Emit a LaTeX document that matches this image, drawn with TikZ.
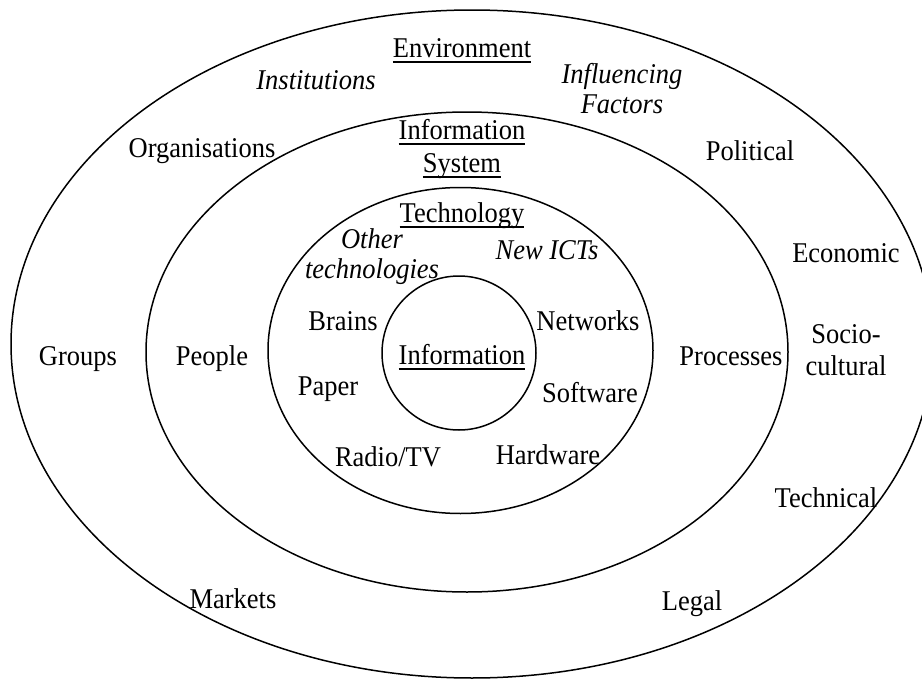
\documentclass[tikz,border=0pt]{standalone}
\usepackage{fontspec}
\usepackage{graphicx}
\setmainfont{Liberation Serif}
\newcommand{\ulx}[1]{\setbox0\hbox{#1}\rlap{\rule[-5.5pt]{\wd0}{1.6pt}}\box0}
\newcommand{\stx}[1]{\scalebox{1}[1.08]{#1}}
\tikzset{
  lbl/.style={anchor=base, inner sep=0pt, font=\fontsize{26.5}{32}\selectfont},
  ilbl/.style={lbl, font=\fontsize{26.5}{32}\selectfont\itshape},
  ring/.style={draw=black, line width=1.5pt}
}
\begin{document}
\begin{tikzpicture}[x=1pt, y=-1pt]
\useasboundingbox (0,0) rectangle (922,680);
\clip (0,0) rectangle (922,680);
\fill[white] (0,0) rectangle (922,680);
% rings
\coordinate (c1) at (472,344);
\coordinate (c2) at (467,352);
\coordinate (c3) at (460.5,350.5);
\coordinate (c4) at (459,353);
\draw[ring] (c1) ellipse [x radius=461pt, y radius=334pt];
\draw[ring] (c2) ellipse [x radius=321pt, y radius=240pt];
\draw[ring] (c3) ellipse [x radius=192.5pt, y radius=163pt];
\draw[ring] (c4) circle [radius=77pt];
% environment
\node[lbl] (env) at (462,57) {\ulx{\stx{Environment}}};
\node[ilbl] (inst) at (316,89) {\stx{Institutions}};
\node[ilbl] (infl1) at (622,83) {\stx{Influencing}};
\node[ilbl] (infl2) at (622,113) {\stx{Factors}};
\node[lbl] (org) at (202,157) {\stx{Organisations}};
\node[lbl] (pol) at (750,160) {\stx{Political}};
\node[lbl] (eco) at (846,262) {\stx{Economic}};
\node[lbl] (soc1) at (846,343) {\stx{Socio-}};
\node[lbl] (soc2) at (846,375) {\stx{cultural}};
\node[lbl] (grp) at (78,365) {\stx{Groups}};
\node[lbl] (tec) at (826,507) {\stx{Technical}};
\node[lbl] (leg) at (692,610) {\stx{Legal}};
\node[lbl] (mkt) at (233,608) {\stx{Markets}};
% information system
\node[lbl] (is1) at (462,139) {\ulx{\stx{Information}}};
\node[lbl] (is2) at (462,172) {\ulx{\stx{System}}};
\node[lbl] (ppl) at (212,365) {\stx{People}};
\node[lbl] (prc) at (731,365) {\stx{Processes}};
% technology
\node[lbl] (tech) at (462,222) {\ulx{\stx{Technology}}};
\node[ilbl] (oth1) at (372,248) {\stx{Other}};
\node[ilbl] (oth2) at (372,278) {\stx{technologies}};
\node[ilbl] (ict) at (547,259) {\stx{New ICTs}};
\node[lbl] (brn) at (343,330) {\stx{Brains}};
\node[lbl] (net) at (588,330) {\stx{Networks}};
\node[lbl] (pap) at (328,395) {\stx{Paper}};
\node[lbl] (sw) at (590,402) {\stx{Software}};
\node[lbl] (rad) at (388,466) {\stx{Radio/TV}};
\node[lbl] (hw) at (548,464) {\stx{Hardware}};
% information
\node[lbl] (info) at (462,364) {\ulx{\stx{Information}}};
\end{tikzpicture}
\end{document}
